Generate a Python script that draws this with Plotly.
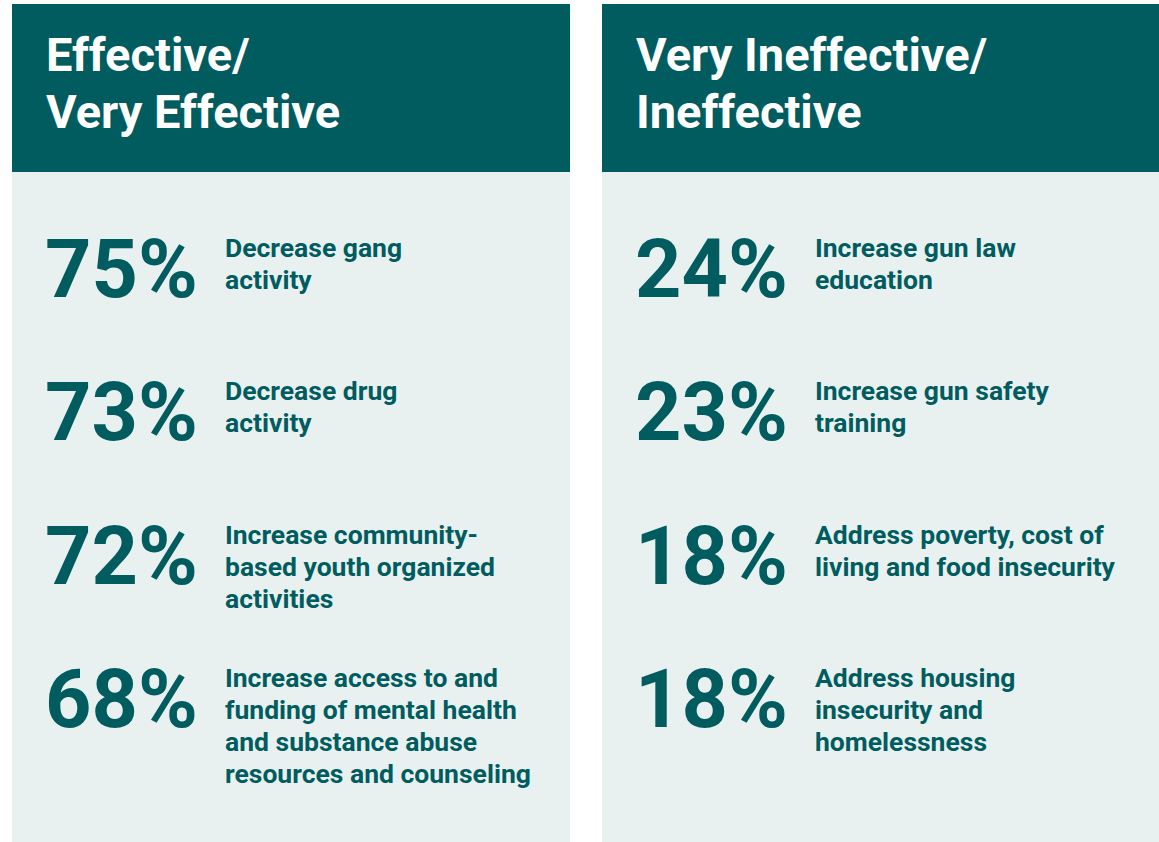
import plotly.graph_objects as go

# ---- data ----
panel_titles = ["Effective/<br>Very Effective", "Very Ineffective/<br>Ineffective"]
left_values = [75, 73, 72, 68]
left_labels = [
    "Decrease gang<br>activity",
    "Decrease drug<br>activity",
    "Increase community-<br>based youth organized<br>activities",
    "Increase access to and<br>funding of mental health<br>and substance abuse<br>resources and counseling",
]
right_values = [24, 23, 18, 18]
right_labels = [
    "Increase gun law<br>education",
    "Increase gun safety<br>training",
    "Address poverty, cost of<br>living and food insecurity",
    "Address housing<br>insecurity and<br>homelessness",
]

DARK = "#005C5F"
LIGHT = "#E8F1F0"
W, H = 1159, 842

fig = go.Figure()
fig.update_layout(
    width=W, height=H, margin=dict(l=0, r=0, t=0, b=0),
    paper_bgcolor="white", plot_bgcolor="white", showlegend=False,
    xaxis=dict(range=[0, W], visible=False, fixedrange=True),
    yaxis=dict(range=[H, 0], visible=False, fixedrange=True),
)

panels = [(12, 570), (602, 1165)]
header_top, header_bot = 4, 172
row_y = [240, 383, 527, 670]  # cap-top of each row

for (x0, x1), title, vals, labs in zip(panels, panel_titles,
                                       [left_values, right_values],
                                       [left_labels, right_labels]):
    fig.add_shape(type="rect", x0=x0, x1=x1, y0=header_bot, y1=H + 5,
                  fillcolor=LIGHT, line_width=0, layer="below")
    fig.add_shape(type="rect", x0=x0, x1=x1, y0=header_top, y1=header_bot,
                  fillcolor=DARK, line_width=0, layer="below")
    for i, line in enumerate(title.split("<br>")):
        fig.add_annotation(x=x0 + 32, y=24.5 + i * 57, text=f"<b>{line}</b>", showarrow=False,
                           xanchor="left", yanchor="top", align="left",
                           font=dict(family="Roboto", size=47, color="white"))
    for yv, v, lab in zip(row_y, vals, labs):
        fig.add_annotation(x=x0 + 31, y=yv + 29, text=f"<b>{v}%</b>", showarrow=False,
                           xanchor="left", yanchor="middle",
                           font=dict(family="Roboto", size=81, color=DARK))
        for i, line in enumerate(lab.split("<br>")):
            fig.add_annotation(x=x0 + 211, y=yv - 10.5 + i * 32, text=f"<b>{line}</b>",
                               showarrow=False, xanchor="left", yanchor="top", align="left",
                               font=dict(family="Roboto", size=26.5, color=DARK))

fig.write_html(
    "out.html",
    config={"displayModeBar": False, "staticPlot": True},
    post_script=(
        "document.documentElement.style.overflow='hidden';"
        "document.body.style.margin='0';document.body.style.overflow='hidden';"
    ),
)
